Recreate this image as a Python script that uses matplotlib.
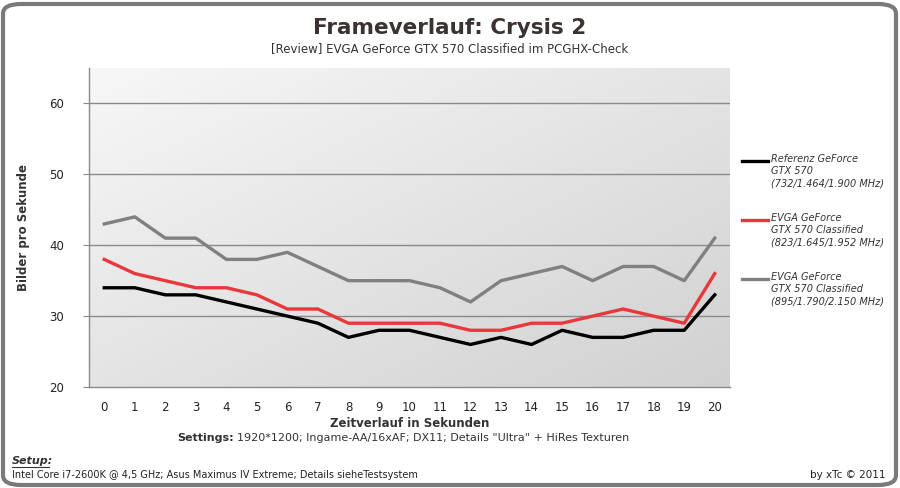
# Frameverlauf Crysis 2 - line chart
import numpy as np
import matplotlib.pyplot as plt
from matplotlib.colors import LinearSegmentedColormap
from matplotlib.patches import FancyBboxPatch
from matplotlib.lines import Line2D

seconds = list(range(21))
referenz = [34, 34, 33, 33, 32, 31, 30, 29, 27, 28, 28, 27, 26, 27, 26, 28, 27, 27, 28, 28, 33]
evga_823 = [38, 36, 35, 34, 34, 33, 31, 31, 29, 29, 29, 29, 28, 28, 29, 29, 30, 31, 30, 29, 36]
evga_895 = [43, 44, 41, 41, 38, 38, 39, 37, 35, 35, 35, 34, 32, 35, 36, 37, 35, 37, 37, 35, 41]

labels = ["Referenz GeForce\nGTX 570\n(732/1.464/1.900 MHz)",
          "EVGA GeForce\nGTX 570 Classified\n(823/1.645/1.952 MHz)",
          "EVGA GeForce\nGTX 570 Classified\n(895/1.790/2.150 MHz)"]
colors = ["#000000", "#e8383b", "#808080"]

W, H = 900, 488
plt.rcParams['font.family'] = 'DejaVu Sans'
fig = plt.figure(figsize=(W / 100, H / 100), dpi=100)

# rounded frame round the whole picture
frame = FancyBboxPatch((3 / W, 3 / H), 1 - 7 / W, 1 - 7 / H,
                       boxstyle="round,pad=0,rounding_size=0.02",
                       transform=fig.transFigure, facecolor="white",
                       edgecolor="#7a7a7a", linewidth=3, zorder=-5)
fig.patches.append(frame)

ax = fig.add_axes([89 / W, 1 - 387 / H, (730 - 89) / W, (387 - 68) / H])
ax.set_zorder(1)
ax.set_xlim(-0.5, 20.5)
ax.set_ylim(20, 65)

# background gradient, light top-left to darker bottom-right
gx, gy = np.meshgrid(np.linspace(0, 1, 200), np.linspace(0, 1, 200))
grad = 0.5 * gx + 0.5 * gy
ax.imshow(grad, extent=(-0.5, 20.5, 20, 65), origin='upper', aspect='auto',
          cmap=LinearSegmentedColormap.from_list("bg", ["#f7f7f7", "#d2d1d1"]),
          zorder=0)

for y in [30, 40, 50, 60]:
    ax.axhline(y, color="#8a8a8a", lw=1, zorder=1)

for vals, c in zip([referenz, evga_823, evga_895], colors):
    ax.plot(seconds, vals, color=c, lw=2.4, zorder=3)

for s in ["top", "right"]:
    ax.spines[s].set_visible(False)
for s in ["left", "bottom"]:
    ax.spines[s].set_color("#8a8a8a")
    ax.spines[s].set_linewidth(1)

ax.set_xticks(seconds)
ax.set_yticks([20, 30, 40, 50, 60])
ax.tick_params(axis='x', length=0, pad=10, labelsize=8.5, colors="#222222")
ax.tick_params(axis='y', length=4, color="#8a8a8a", pad=14, labelsize=8.5, labelcolor="#222222")
ax.set_xlabel("Zeitverlauf in Sekunden", fontsize=8.5, fontweight='bold', color="#333333", labelpad=2)
ax.set_ylabel("Bilder pro Sekunde", fontsize=8.5, fontweight='bold', color="#333333", labelpad=14)

# titles
fig.text(0.5, 1 - 28 / H, "Frameverlauf: Crysis 2", ha='center', va='center',
         fontsize=15.5, fontweight='bold', color="#3a3332")
fig.text(0.5, 1 - 49 / H, "[Review] EVGA GeForce GTX 570 Classified im PCGHX-Check",
         ha='center', va='center', fontsize=8.5, color="#333333")

# legend
for i, (lab, c) in enumerate(zip(labels, colors)):
    ytop = 161 + i * 59
    fig.add_artist(Line2D([742 / W, 768 / W], [1 - ytop / H, 1 - ytop / H],
                          transform=fig.transFigure, color=c, lw=2.4))
    fig.text(771 / W, 1 - (ytop - 7) / H, lab, ha='left', va='top', fontsize=7,
             style='italic', color="#333333", linespacing=1.3)

# bottom notes
fig.text(234 / W, 1 - 438 / H, "Settings:", ha='right', va='center', fontsize=8,
         fontweight='bold', color="#333333")
fig.text(237 / W, 1 - 438 / H,
         '1920*1200; Ingame-AA/16xAF; DX11; Details "Ultra" + HiRes Texturen',
         ha='left', va='center', fontsize=8, color="#333333")
fig.text(12 / W, 1 - 461 / H, "Setup:", ha='left', va='center', fontsize=8,
         fontweight='bold', style='italic', color="#333333")
fig.add_artist(Line2D([12 / W, 49 / W], [1 - 467 / H, 1 - 467 / H],
                      transform=fig.transFigure, color="#333333", lw=0.8))
fig.text(12 / W, 1 - 475 / H,
         "Intel Core i7-2600K @ 4,5 GHz; Asus Maximus IV Extreme; Details sieheTestsystem",
         ha='left', va='center', fontsize=7, color="#222222")
fig.text(886 / W, 1 - 475 / H, "by xTc \u00a9 2011", ha='right', va='center',
         fontsize=7.5, color="#222222")

fig.savefig("out.png", dpi=100)
